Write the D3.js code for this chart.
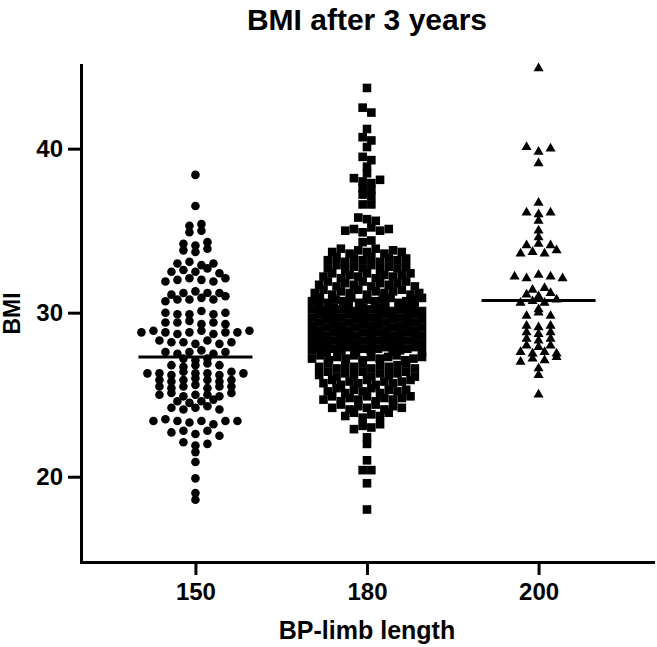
<!DOCTYPE html>
<html>
<head>
<meta charset="utf-8">
<script src="https://cdn.jsdelivr.net/npm/d3@7"></script>
<style>
  body { margin: 0; background: #fff; }
  svg text { font-family: "Liberation Sans", Arial, sans-serif; font-weight: bold; fill: #000; }
</style>
</head>
<body>
<div id="chart"></div>
<script>

/// data

const groups = ["150", "180", "200"];
const yTicks = [20, 30, 40];
const medians = [27.3, 27.9, 30.75];

const bmi150 = [38.4, 36.5, 35.3, 35.4, 34.9, 35.0, 34.2, 34.1, 34.3, 33.8, 33.7, 33.9,
  33.0, 33.1, 32.9, 33.0, 32.5, 32.6, 32.5, 32.7, 32.4, 31.9, 32.0, 32.1, 32.0, 31.9, 32.1,
  31.1, 31.2, 31.3, 31.2, 31.2, 30.7, 30.8, 30.8, 30.9, 30.8, 31.0,
  30.0, 29.9, 29.9, 30.1, 29.9, 30.0, 29.4, 29.4, 29.5, 29.3, 29.4, 29.3,
  28.8, 28.9, 28.8, 28.7, 28.8, 28.9, 28.7, 28.8, 28.8, 28.9, 28.3, 28.2, 28.2, 28.1, 28.3, 28.1, 28.2,
  27.6, 27.5, 27.6, 27.7, 27.5, 27.6, 27.2, 27.1, 27.2, 26.8, 26.7, 26.8, 26.9, 26.8,
  26.3, 26.3, 26.2, 26.4, 26.3, 26.3, 26.2, 26.4, 26.3, 25.9, 25.8, 25.9, 26.0, 25.9, 25.8, 25.9,
  25.5, 25.4, 25.5, 25.6, 25.4, 25.5, 25.5, 25.0, 25.1, 24.9, 25.0, 25.0, 24.9, 25.1,
  24.6, 24.5, 24.6, 24.7, 24.2, 24.1, 24.2, 24.3, 24.1, 23.4, 23.5, 23.4, 23.3, 23.4, 23.2, 23.4, 23.4,
  22.7, 22.8, 22.6, 22.8, 22.5, 22.1, 21.9, 22.0, 21.5, 20.9, 19.9, 19.0, 18.6];

const bmi180 = [43.7, 42.5, 42.2, 41.2, 40.7, 40.5, 40.1, 39.5, 39.3, 38.9, 38.5,
  38.2, 38.0, 37.9, 38.1, 37.6, 37.5, 37.2, 37.1, 36.6, 36.6, 35.8, 35.7, 35.6,
  35.0, 35.1, 34.9, 35.2, 35.0, 35.1, 34.3, 34.4,
  33.7, 33.9, 33.6, 33.8, 33.7, 33.9, 33.6, 33.8, 33.7,
  33.2, 33.4, 33.1, 33.3, 33.2, 33.4, 33.1, 33.3, 33.2, 33.3,
  32.7, 32.9, 32.6, 32.8, 32.7, 32.9, 32.6, 32.8, 32.7, 32.8,
  32.2, 32.4, 32.1, 32.3, 32.2, 32.4, 32.1, 32.3, 32.2, 32.3, 32.4,
  31.7, 31.9, 31.6, 31.8, 31.7, 31.9, 31.6, 31.8, 31.7, 31.8, 31.9, 31.6,
  31.2, 31.4, 31.1, 31.3, 31.2, 31.4, 31.1, 31.3, 31.2, 31.3, 31.4, 31.1, 31.2,
  30.7, 30.9, 30.6, 30.8, 30.7, 30.9, 30.6, 30.8, 30.7, 30.8, 30.9, 30.6, 30.7, 30.8, 30.9,
  30.2, 30.4, 30.1, 30.3, 30.2, 30.4, 30.1, 30.3, 30.2, 30.3, 30.4, 30.1, 30.2, 30.3, 30.4, 30.1,
  29.7, 29.9, 29.6, 29.8, 29.7, 29.9, 29.6, 29.8, 29.7, 29.8, 29.9, 29.6, 29.7, 29.8, 29.9, 29.6,
  29.2, 29.4, 29.1, 29.3, 29.2, 29.4, 29.1, 29.3, 29.2, 29.3, 29.4, 29.1, 29.2, 29.3, 29.4, 29.1,
  28.7, 28.9, 28.6, 28.8, 28.7, 28.9, 28.6, 28.8, 28.7, 28.8, 28.9, 28.6, 28.7, 28.8, 28.9, 28.6,
  28.2, 28.4, 28.1, 28.3, 28.2, 28.4, 28.1, 28.3, 28.2, 28.3, 28.4, 28.1, 28.2, 28.3, 28.4, 28.1,
  27.7, 27.9, 27.6, 27.8, 27.7, 27.9, 27.6, 27.8, 27.7, 27.8, 27.9, 27.6, 27.7, 27.8, 27.9, 27.6,
  27.2, 27.4, 27.1, 27.3, 27.2, 27.4, 27.1, 27.3, 27.2, 27.3, 27.4, 27.1, 27.2, 27.3,
  26.7, 26.9, 26.6, 26.8, 26.7, 26.9, 26.6, 26.8, 26.7, 26.8, 26.9, 26.6,
  26.2, 26.4, 26.1, 26.3, 26.2, 26.4, 26.1, 26.3, 26.2, 26.3, 26.4, 26.1,
  25.7, 25.9, 25.6, 25.8, 25.7, 25.9, 25.6, 25.8, 25.7, 25.8, 25.9,
  25.2, 25.4, 25.1, 25.3, 25.2, 25.4, 25.1, 25.3, 25.2, 25.3,
  24.7, 24.9, 24.6, 24.8, 24.7, 24.9, 24.6, 24.8, 24.7, 24.8, 24.9,
  24.2, 24.4, 24.1, 24.3, 24.2, 24.4, 24.1, 24.3, 24.2,
  23.7, 23.9, 23.6, 23.8, 23.7, 23.9,
  22.9, 23.1, 23.0, 23.2, 22.4, 22.0, 21.0, 20.4, 20.4, 19.6, 18.0];

const bmi200 = [44.9, 40.1, 39.8, 40.0, 39.1, 36.7, 36.1, 36.0, 36.1, 35.6, 35.0, 34.6,
  34.1, 34.2, 34.1, 33.6, 33.7, 33.6, 33.8, 32.2, 32.1, 32.3, 32.2, 32.1, 31.4, 31.5,
  31.1, 31.0, 31.2, 30.6, 30.7, 30.6, 30.8, 30.2, 29.8, 30.0, 29.8, 29.2, 29.1, 29.2,
  28.8, 28.7, 28.8, 28.4, 28.3, 28.4, 28.0, 27.9, 28.0, 27.6, 27.5, 27.6, 27.5,
  27.0, 27.2, 27.1, 27.3, 26.6, 26.2, 25.0];


///////////////////////////////////////////////////////////////////////////////

var width = 657;
var height = 647;

const margin = { top: 65, right: 4, bottom: 85, left: 81 };

var svg = d3.select("#chart").append("svg")
  .attr("width", width)
  .attr("height", height);

let x = d3.scalePoint()
  .domain(groups)
  .range([margin.left, width - margin.right])
  .padding(0.667);

let y = d3.scaleLinear()
  .domain([14.8, 45.1])
  .range([height - margin.bottom, margin.top]);

// title
svg.append("text")
  .attr("x", (margin.left + width - margin.right) / 2)
  .attr("y", 30)
  .style("text-anchor", "middle")
  .style("font-size", "30px")
  .text("BMI after 3 years");

// axes
let yAxis = d3.axisLeft(y).tickValues(yTicks).tickSize(13).tickPadding(5).tickSizeOuter(0);
let xAxis = d3.axisBottom(x).tickSize(13).tickPadding(8).tickSizeOuter(0);

let gy = svg.append("g")
  .attr("transform", `translate(${margin.left}, 0)`)
  .call(yAxis);

let gx = svg.append("g")
  .attr("transform", `translate(0, ${height - margin.bottom})`)
  .call(xAxis);

[gx, gy].forEach(g => {
  g.attr("font-family", null).attr("font-size", null);
  g.select(".domain").attr("stroke", "#000").attr("stroke-width", 3).attr("stroke-linecap", "square");
  g.selectAll(".tick line").attr("stroke", "#000").attr("stroke-width", 3);
  g.selectAll(".tick text").style("font-size", "24px");
});

// axis titles
svg.append("text")
  .attr("x", (margin.left + width - margin.right) / 2)
  .attr("y", 639)
  .style("text-anchor", "middle")
  .style("font-size", "25px")
  .text("BP-limb length");

svg.append("text")
  .attr("transform", `translate(20, ${(margin.top + height - margin.bottom) / 2}) rotate(-90)`)
  .style("text-anchor", "middle")
  .style("font-size", "23px")
  .text("BMI");


//// scatter layout, rows of close values spread sideways like Prism does

const rowGap = 5.5;

function swarm(values, cx, step, maxHalf) {
  let sorted = values.map((v, i) => ({ v, i })).sort((a, b) => a.v - b.v || a.i - b.i);
  let rows = [], cur = null;
  sorted.forEach(p => {
    if (!cur || y(cur.start) - y(p.v) >= rowGap) {
      cur = { start: p.v, pts: [] };
      rows.push(cur);
    }
    cur.pts.push(p);
  });
  let out = [];
  rows.forEach(r => {
    r.pts.sort((a, b) => a.i - b.i);
    let n = r.pts.length;
    let s = n > 1 ? Math.min(step, 2 * maxHalf / (n - 1)) : 0;
    r.pts.forEach((p, k) => out.push({ v: p.v, x: cx + (k - (n - 1) / 2) * s }));
  });
  return out;
}

const series = [
  { key: "150", values: bmi150, symbol: d3.symbolCircle, size: 58, step: 12, half: 54 },
  { key: "180", values: bmi180, symbol: d3.symbolSquare, size: 74, step: 8.7, half: 55 },
  { key: "200", values: bmi200, symbol: d3.symbolTriangle, size: 44, step: 12, half: 57 }
];

series.forEach((s, gi) => {
  let pts = swarm(s.values, x(s.key), s.step, s.half);
  svg.append("g")
    .selectAll("path")
    .data(pts)
    .enter()
    .append("path")
    .attr("d", d3.symbol().type(s.symbol).size(s.size))
    .attr("transform", d => `translate(${d.x}, ${y(d.v)})`)
    .style("fill", "#000");

  svg.append("line")
    .attr("x1", x(s.key) - 57)
    .attr("x2", x(s.key) + 57)
    .attr("y1", y(medians[gi]))
    .attr("y2", y(medians[gi]))
    .attr("stroke", "#000")
    .attr("stroke-width", 3);
});

</script>
</body>
</html>
